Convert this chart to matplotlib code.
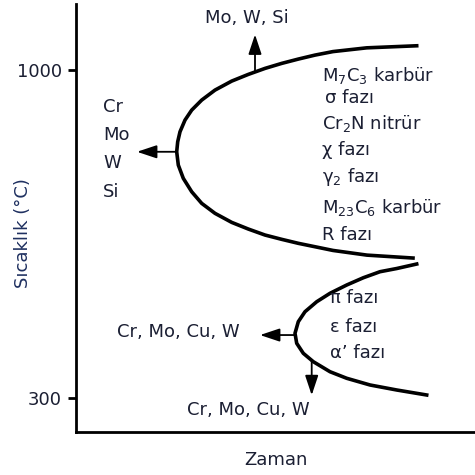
import numpy as np
import matplotlib
matplotlib.use("Agg")
import matplotlib.pyplot as plt
from matplotlib.patches import FancyArrowPatch

plt.rcParams["font.family"] = "DejaVu Sans"
plt.rcParams["mathtext.default"] = "regular"

# upper C curve (time units, temperature °C)
upper_t = [340.7, 290.7, 257, 239, 222.3, 205.7, 189, 172.3, 155.7, 139, 125.7,
           115.7, 109, 104, 101.7, 100.7, 102.3, 107.3, 115.7, 125.7, 139, 155.7,
           172.3, 189, 205.7, 222.3, 239, 257, 291, 337]
upper_T = [1051.9, 1047.5, 1039.5, 1032.0, 1023.5, 1014.3, 1003.6, 990.8, 976.5,
           957.3, 936.0, 914.6, 893.3, 868.3, 847.0, 825.6, 797.3, 768.9, 740.3,
           715.5, 694.2, 674.9, 660.7, 647.9, 638.7, 630.2, 622.9, 615.0, 605.0, 598.8]

# lower C curve
lower_t = [340.7, 320.7, 304, 287.3, 270.7, 254, 240.7, 229, 222.3, 219, 220.7,
           227.3, 237.3, 254, 270.7, 294, 320.7, 350.7]
lower_T = [586.0, 576.4, 569.6, 556.7, 541.2, 523.5, 505.5, 484.2, 462.9, 438.1,
           416.8, 395.4, 377.5, 356.1, 342.1, 327.8, 317.1, 306.4]

ytick_vals = [300, 1000]
ytick_labels = ["300", "1000"]

upper_phases = ["M$_7$C$_3$ karbür", "σ fazı", "Cr$_2$N nitrür", "χ fazı",
                "γ$_2$ fazı", "M$_{23}$C$_6$ karbür", "R fazı"]
upper_phase_T = [989, 940, 887, 829, 772, 706, 648]

lower_phases = ["π fazı", "ε fazı", "α’ fazı"]
lower_phase_T = [513, 452, 396]

left_elems = ["Cr", "Mo", "W", "Si"]
left_elem_T = [921, 861, 802, 740]

txt_color = "#1b1f33"
fs = 13

fig = plt.figure(figsize=(4.75, 4.75), dpi=100)
ax = fig.add_axes([0.160, 0.0905, 0.840, 0.901])
ax.set_xlim(0, 399)
ax.set_ylim(227.4, 1141)

ax.plot(upper_t, upper_T, color="black", lw=2.6, solid_joinstyle="round")
ax.plot(lower_t, lower_T, color="black", lw=2.6, solid_joinstyle="round")

def arrow(x0, y0, x1, y1):
    a = FancyArrowPatch((x0, y0), (x1, y1), arrowstyle="-|>,head_length=0.6,head_width=0.2",
                        mutation_scale=20, lw=1.3, color="black", shrinkA=0, shrinkB=0)
    ax.add_patch(a)

# arrows from the curves
arrow(179, 998, 179, 1076)
arrow(100.7, 825.6, 61, 825.6)
arrow(219, 434.4, 184, 434.4)
arrow(235.7, 379, 235.7, 306)

# labels
ax.text(171, 1111, "Mo, W, Si", ha="center", va="center", fontsize=fs, color=txt_color)
for name, T in zip(left_elems, left_elem_T):
    ax.text(27, T, name, ha="left", va="center", fontsize=fs, color=txt_color)
for i, (name, T) in enumerate(zip(upper_phases, upper_phase_T)):
    x = 249 if i == 1 else 246
    ax.text(x, T, name, ha="left", va="center", fontsize=fs, color=txt_color)
for name, T in zip(lower_phases, lower_phase_T):
    ax.text(254, T, name, ha="left", va="center", fontsize=fs, color=txt_color)
ax.text(41, 441, "Cr, Mo, Cu, W", ha="left", va="center", fontsize=fs, color=txt_color)
ax.text(111, 274, "Cr, Mo, Cu, W", ha="left", va="center", fontsize=fs, color=txt_color)

# axes styling
for s in ["top", "right"]:
    ax.spines[s].set_visible(False)
ax.spines["left"].set_linewidth(2)
ax.spines["bottom"].set_linewidth(2)
ax.set_xticks([])
ax.set_yticks(ytick_vals)
ax.set_yticklabels(ytick_labels, fontsize=fs, color=txt_color)
ax.tick_params(axis="y", direction="out", length=6, width=2, pad=4)

ax.set_ylabel("Sıcaklık (°C)", fontsize=fs, color="#1f3060", va="center")
ax.yaxis.set_label_coords(-0.133, 0.465)
ax.set_xlabel("Zaman", fontsize=fs, color=txt_color, labelpad=14)

fig.savefig("out.png", dpi=100)
